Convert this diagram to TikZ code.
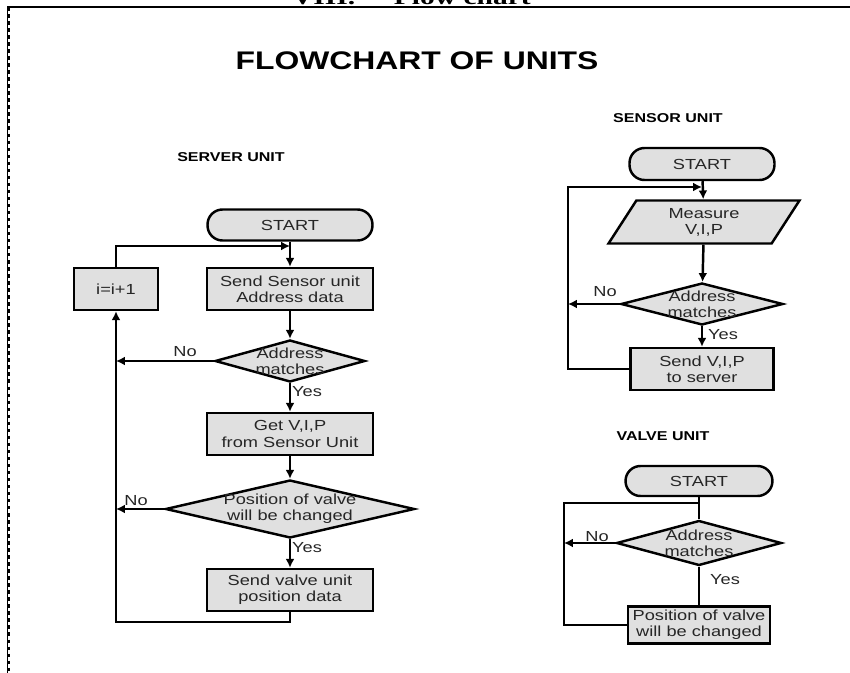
\documentclass[tikz,border=0pt]{standalone}
\usepackage{fontspec}
\setmainfont{Liberation Sans}[FakeStretch=1.25]
\newfontfamily\headfont{Liberation Serif}[FakeStretch=1.4]
\usetikzlibrary{shapes.geometric,arrows.meta}

\begin{document}
\begin{tikzpicture}[x=0.02cm, y=-0.02cm,
        line width=1.4pt,
        every node/.style={font=\fontsize{8.3}{9.2}\selectfont, text=black!85},
        box/.style={draw, fill=black!12, minimum width=3.32cm, minimum height=0.84cm, align=center, inner sep=1pt},
        term/.style={draw, fill=black!12, rounded corners=0.3cm, minimum width=3.3cm, minimum height=0.62cm},
        decision/.style={draw, diamond, fill=black!12, inner sep=0pt},
        arr/.style={-{Latex[length=5pt,width=5pt]}},
        unit/.style={font=\bfseries\fontsize{7.3}{8.5}\selectfont, text=black}]
        \useasboundingbox (0,0) rectangle (850,673);

        % Cornice
        \draw[line width=0.8pt] (7,7) -- (850,7);
        \draw[line width=0.4pt] (7,7) -- (7,673);
        \draw[line width=1pt, dash pattern=on 2pt off 2pt] (9,7) -- (9,673);

        % Titoli
        \node[font=\headfont\bfseries\fontsize{12}{14}\selectfont, text=black, anchor=base west] (head) at (285,4) {VIII.\hspace{22pt}Flow chart};
        \node[font=\bfseries\fontsize{14.5}{17}\selectfont, text=black] (title) at (417,61) {FLOWCHART OF UNITS};

        % Unita server
        \node[unit] (hserver) at (231,157) {SERVER UNIT};
        \node[term] (start1) at (290,225) {START};
        \node[box] (send1) at (290,289) {Send Sensor unit\\Address data};
        \node[box, minimum width=1.68cm] (incr) at (116,289) {i=i+1};
        \node[decision, minimum width=3cm, minimum height=0.84cm,
            label={[align=center]center:Address\\matches}] (addr1) at (290,361) {};
        \node[box] (get1) at (290,434) {Get V,I,P\\from Sensor Unit};
        \node[decision, minimum width=4.98cm, minimum height=1.16cm,
            label={[align=center]center:Position of valve\\will be changed}] (pos1) at (290,509) {};
        \node[box] (sendv) at (290,590) {Send valve unit\\position data};
        \coordinate (j1) at (290,246);

        \draw[arr] (start1) -- (send1);
        \draw[arr] (incr.north) |- (j1);
        \draw[arr] (send1) -- (addr1);
        \draw[arr] (addr1.west) -- (addr1.west -| incr.south);
        \draw[arr] (addr1) -- (get1);
        \draw[arr] (get1) -- (pos1);
        \draw[arr] (pos1.west) -- (pos1.west -| incr.south);
        \draw[arr] (pos1) -- (sendv);
        \draw[arr] (sendv.south) -- ++(0,10) -| (incr.south);

        \node (no1) at (185,352) {No};
        \node (yes1) at (307,392) {Yes};
        \node (no2) at (136,501) {No};
        \node (yes2) at (307,548) {Yes};

        % Unita sensore
        \node[unit] (hsensor) at (668,118) {SENSOR UNIT};
        \node[term, minimum width=2.9cm, minimum height=0.64cm] (start2) at (702,164) {START};
        \node[trapezium, trapezium left angle=55, trapezium right angle=125, trapezium stretches body,
            draw, fill=black!12, align=center, minimum width=3.82cm, minimum height=0.86cm] (meas) at (704,222) {Measure\\V,I,P};
        \node[decision, minimum width=3.24cm, minimum height=0.84cm,
            label={[align=center]center:Address\\matches}] (addr2) at (702,304) {};
        \node[box, minimum width=2.86cm] (sendvip) at (702,369) {Send V,I,P\\to server};
        \coordinate (j2) at (702,187);
        \coordinate (c2) at (568,187);

        \draw[arr] (start2) -- (meas);
        \draw[arr] (sendvip.west) -| (c2) -- (j2);
        \draw[arr] (meas) -- (addr2);
        \draw[arr] (addr2.west) -- (addr2.west -| c2);
        \draw[arr] (addr2) -- (sendvip);

        \node (no3) at (605,292) {No};
        \node (yes3) at (723,335) {Yes};

        % Unita valvola
        \node[unit] (hvalve) at (663,436) {VALVE UNIT};
        \node[term, minimum width=2.94cm, minimum height=0.6cm] (start3) at (699,481) {START};
        \node[decision, minimum width=3.3cm, minimum height=0.9cm,
            label={[align=center]center:Address\\matches}] (addr3) at (699,543) {};
        \node[box, minimum width=2.84cm, minimum height=0.74cm] (chg) at (699,625) {Position of valve\\will be changed};
        \coordinate (j3) at (699,503);
        \coordinate (c3) at (564,503);

        \draw (start3) -- (addr3);
        \draw (chg.west) -| (c3) -- (j3);
        \draw[arr] (addr3.west) -- (addr3.west -| c3);
        \draw (addr3) -- (chg);

        \node (no4) at (597,537) {No};
        \node (yes4) at (725,580) {Yes};

    \end{tikzpicture}
\end{document}
